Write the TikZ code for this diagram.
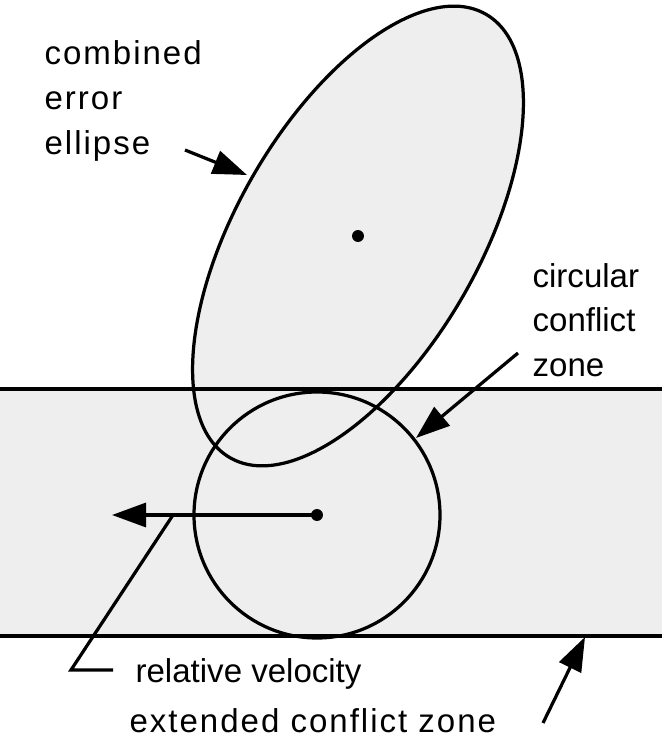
\documentclass[tikz,border=0pt]{standalone}
\usepackage{fontspec}
\setmainfont{Liberation Sans}
\usetikzlibrary{arrows.meta}
\definecolor{zonegray}{RGB}{238,238,238}

\begin{document}
\begin{tikzpicture}[x=0.025cm, y=0.025cm, line width=2.3pt,
  font=\fontsize{23.5}{32}\selectfont,
  lbl/.style={anchor=base west, align=left, inner sep=0pt},
  wide/.style={font=\fontsize{23.5}{32}\selectfont\addfontfeature{LetterSpace=6}},
  pointer/.style={-{Triangle[length=0.85cm,width=0.6cm]}},
  dot/.style={circle, fill, inner sep=0pt, minimum size=8.5pt}]
\useasboundingbox (0,0) rectangle (662,745);
% extended zone and error ellipse
\fill[zonegray] (0,109) rectangle (662,356);
\filldraw[fill=zonegray, rotate around={60:(358,509)}] (358,509) ellipse [x radius=256, y radius=121];
\draw (0,356) -- (662,356);
\draw (0,109) -- (662,109);
\node[dot] (ec) at (358,509) {};
\node[dot] (cc) at (317,230) {};
\draw (cc) circle [radius=123];
% labels (base = last line)
\node[lbl, wide] (cee) at (43,590) {combined\\error\\ellipse};
\node[lbl] (ccz) at (531,368) {circular\\conflict\\zone};
\node[lbl] (rv) at (134,62) {relative velocity};
\node[lbl, wide] (ecz) at (128,12) {extended conflict zone};
% pointers
\coordinate (ceeA) at (185,595);
\coordinate (ceeB) at (247,570);
\coordinate (cczA) at (518,392);
\coordinate (cczB) at (416,307);
\coordinate (rvB) at (112,230);
\coordinate (rvA) at (173,230);
\coordinate (rvK) at (71,75);
\coordinate (rvE) at (113,75);
\coordinate (eczA) at (543,22);
\coordinate (eczB) at (585,108);
\draw[pointer] (ceeA) -- (ceeB);
\draw[pointer] (cczA) -- (cczB);
\draw[pointer] (cc.center) -- (rvB);
\draw (rvA) -- (rvK) -- (rvE);
\draw[pointer] (eczA) -- (eczB);
\end{tikzpicture}
\end{document}
